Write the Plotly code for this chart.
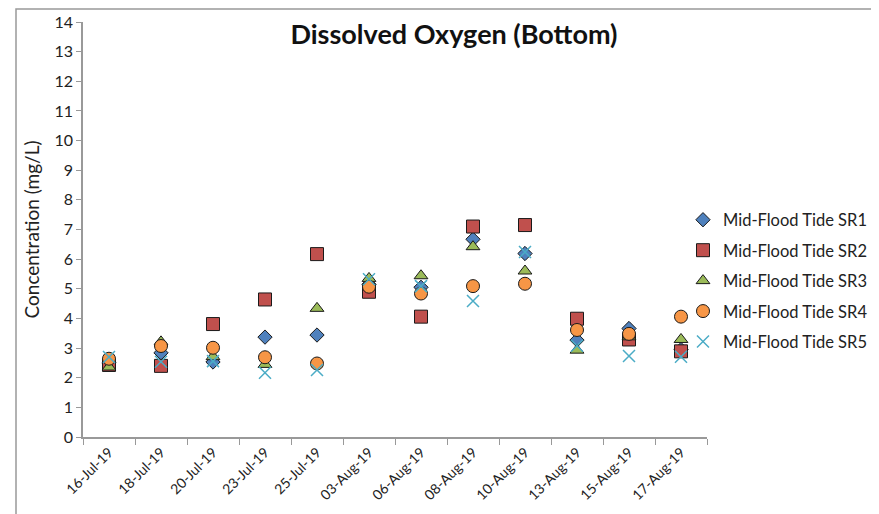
import plotly.graph_objects as go

dates = ["16-Jul-19", "18-Jul-19", "20-Jul-19", "23-Jul-19", "25-Jul-19", "03-Aug-19",
         "06-Aug-19", "08-Aug-19", "10-Aug-19", "13-Aug-19", "15-Aug-19", "17-Aug-19"]

sr1 = [2.5, 2.84, 2.53, 3.37, 3.44, 5.15, 5.05, 6.67, 6.19, 3.27, 3.66, 2.95]
sr2 = [2.43, 2.40, 3.81, 4.64, 6.17, 4.90, 4.06, 7.10, 7.15, 3.99, 3.29, 2.89]
sr3 = [2.36, 3.21, 2.71, 2.45, 4.34, 5.35, 5.44, 6.42, 5.60, 2.93, 3.38, 3.29]
sr4 = [2.64, 3.07, 3.01, 2.69, 2.48, 5.07, 4.84, 5.09, 5.17, 3.61, 3.48, 4.06]
sr5 = [2.70, 2.54, 2.56, 2.17, 2.26, 5.32, 5.09, 4.59, 6.24, 3.08, 2.73, 2.71]

names = ["Mid-Flood Tide SR1", "Mid-Flood Tide SR2", "Mid-Flood Tide SR3",
         "Mid-Flood Tide SR4", "Mid-Flood Tide SR5"]
series = [sr1, sr2, sr3, sr4, sr5]
colors = ["#4F81BD", "#C0504D", "#9BBB59", "#F79646", "#4BACC6"]
symbols = ["diamond", "square", "triangle-up", "circle", "x-thin"]
sizes = [11, 13, 12, 13, 12]

FONT = "Lato"
# the page body has an 8px default margin; compensate so the chart lands at the same spot
OFF = 8
W, H = 879 - OFF, 514 - OFF

fig = go.Figure()
for i, (nm, vals) in enumerate(zip(names, series)):
    if symbols[i] == "x-thin":
        marker = dict(symbol="x-thin", size=sizes[i], color=colors[i],
                      line=dict(color=colors[i], width=1.5))
    else:
        marker = dict(symbol=symbols[i], size=sizes[i], color=colors[i],
                      line=dict(color="#1a1a1a", width=1))
    fig.add_trace(go.Scatter(x=dates, y=vals, mode="markers", name=nm,
                             marker=marker, legendgroup=str(i)))

fig.update_layout(
    width=W, height=H,
    margin=dict(l=83 - OFF, r=879 - 707, t=22 - OFF, b=514 - 437, autoexpand=False),
    paper_bgcolor="white", plot_bgcolor="white",
    font=dict(family=FONT, color="#222"),
    title=dict(text="<b>Dissolved Oxygen (Bottom)</b>", x=(454 - OFF) / W, xanchor="center",
               y=1 - (35 - OFF) / H, yanchor="middle", font=dict(size=27, family=FONT, color="#111")),
    showlegend=True,
    legend=dict(x=(683 - 83) / 624, xanchor="left", y=(437 - 281) / 415, yanchor="middle",
                font=dict(size=16.5, family=FONT, color="#222"),
                tracegroupgap=6, traceorder="grouped",
                bgcolor="rgba(0,0,0,0)"),
    xaxis=dict(type="category", range=[-0.5, 11.5], tickson="boundaries",
               ticks="outside", ticklen=6, tickcolor="#999", automargin=False,
               showline=True, linecolor="#999", linewidth=1.5,
               showgrid=False, zeroline=False, tickangle=-45,
               tickfont=dict(size=14, family=FONT, color="#222")),
    yaxis=dict(range=[0, 14], dtick=1, ticks="outside", ticklen=5, tickcolor="#999",
               showline=True, linecolor="#999", linewidth=1.5, automargin=False,
               showgrid=False, zeroline=False,
               tickfont=dict(size=16, family=FONT, color="#222"),
               title=dict(text="Concentration (mg/L)", standoff=10,
                          font=dict(size=19, family=FONT, color="#222"))),
    shapes=[dict(type="rect", xref="paper", yref="paper",
                 x0=(16 - 83) / 624, x1=(874 - 83) / 624,
                 y0=(437 - 530) / 415, y1=(437 - 9) / 415,
                 line=dict(color="#999", width=1.5), layer="below")],
)

fig.write_html("out.html")
